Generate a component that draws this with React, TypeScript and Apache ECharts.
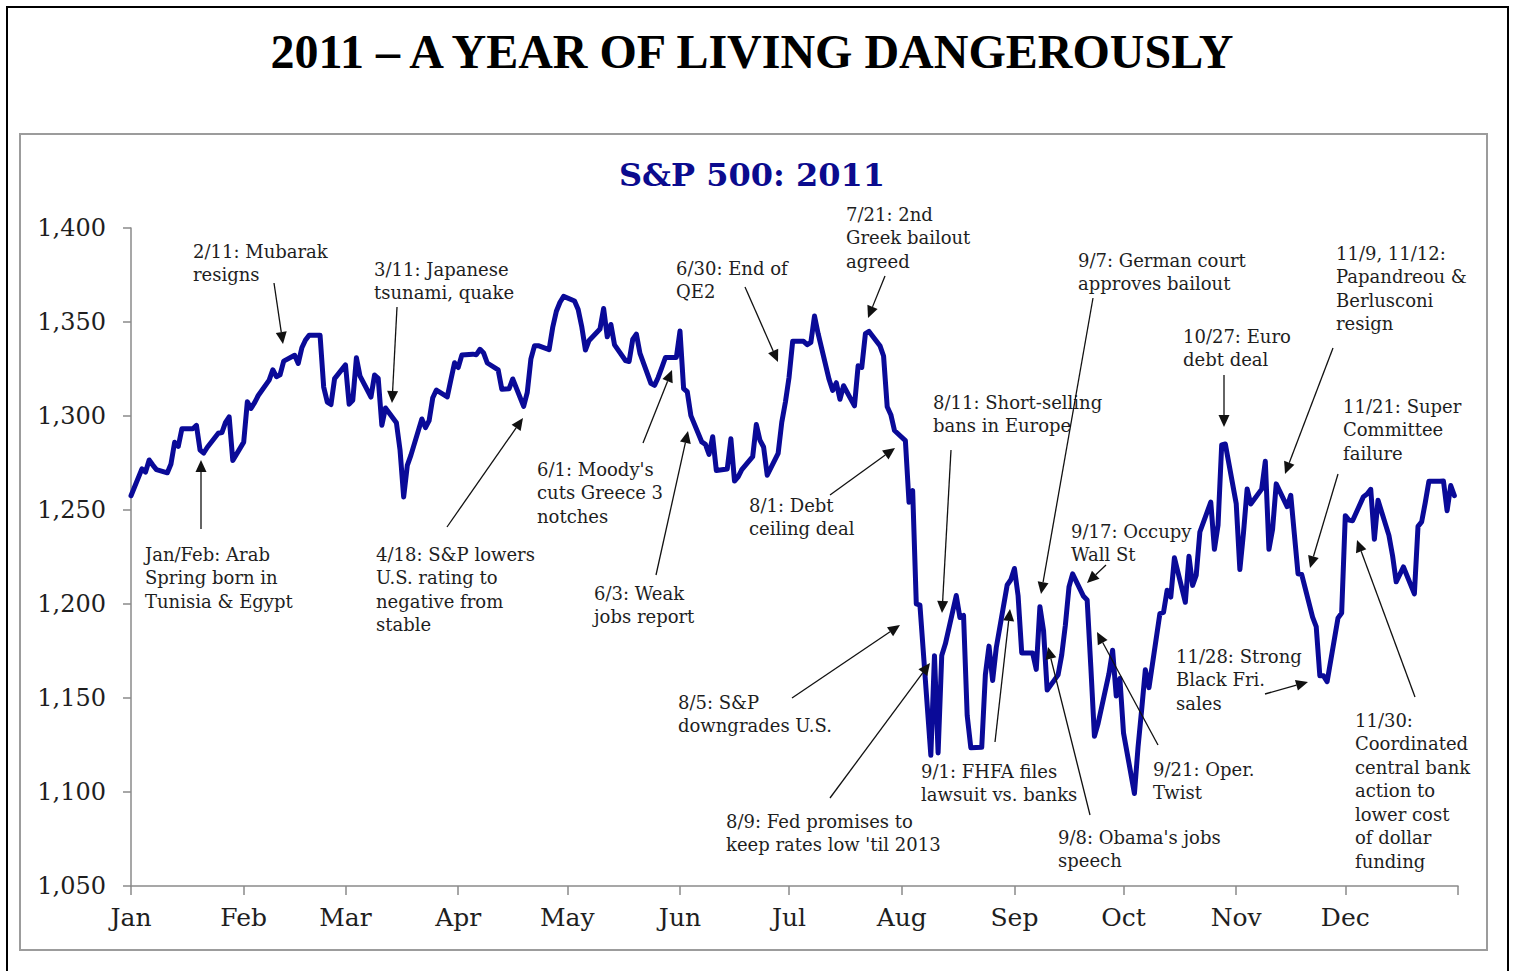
import React, { useEffect, useRef } from "react";
import * as echarts from "echarts";

// ---------- DATA (S&P 500 daily closes, 2011) ----------
const monthNames = ["Jan", "Feb", "Mar", "Apr", "May", "Jun", "Jul", "Aug", "Sep", "Oct", "Nov", "Dec"];
// day-of-year offset at which each month starts (tick positions)
const monthStarts = [0, 31, 59, 90, 120, 151, 181, 212, 243, 273, 304, 334];
const yearEnd = 365;
const yMin = 1050;
const yMax = 1400;
const yStep = 50;

const startClose = 1257.6; // 12/31/2010 close, plotted at the axis origin

const jan: [number, number][] = [
  [3, 1271.9], [4, 1270.2], [5, 1276.6], [6, 1273.9], [7, 1271.5], [10, 1269.8], [11, 1274.5],
  [12, 1286.0], [13, 1283.8], [14, 1293.2], [17, 1293.2], [18, 1295.0], [19, 1281.9], [20, 1280.3],
  [21, 1283.4], [24, 1290.8], [25, 1291.2], [26, 1296.6], [27, 1299.5], [28, 1276.3], [31, 1286.1],
];
const feb: [number, number][] = [
  [1, 1307.6], [2, 1304.0], [3, 1307.1], [4, 1310.9], [7, 1319.1], [8, 1324.6], [9, 1320.9],
  [10, 1321.9], [11, 1329.2], [14, 1332.3], [15, 1328.0], [16, 1336.3], [17, 1340.4], [18, 1343.0],
  [21, 1343.0], [22, 1315.4], [23, 1307.4], [24, 1306.1], [25, 1319.9], [28, 1327.2],
];
const mar: [number, number][] = [
  [1, 1306.3], [2, 1308.4], [3, 1331.0], [4, 1321.2], [7, 1310.1], [8, 1321.8], [9, 1320.0],
  [10, 1295.1], [11, 1304.3], [14, 1296.4], [15, 1281.9], [16, 1256.9], [17, 1273.7], [18, 1279.2],
  [21, 1298.4], [22, 1293.8], [23, 1297.5], [24, 1309.7], [25, 1313.8], [28, 1310.2], [29, 1319.4],
  [30, 1328.3], [31, 1325.8],
];
const apr: [number, number][] = [
  [1, 1332.4], [4, 1332.9], [5, 1332.6], [6, 1335.5], [7, 1333.5], [8, 1328.2], [11, 1324.5],
  [12, 1314.2], [13, 1314.4], [14, 1314.5], [15, 1319.7], [18, 1305.1], [19, 1312.6], [20, 1330.4],
  [21, 1337.4], [22, 1337.4], [25, 1335.3], [26, 1347.2], [27, 1355.7], [28, 1360.5], [29, 1363.6],
];
const may: [number, number][] = [
  [2, 1361.2], [3, 1356.6], [4, 1347.3], [5, 1335.1], [6, 1340.2], [9, 1346.3], [10, 1357.2],
  [11, 1342.1], [12, 1348.7], [13, 1337.8], [16, 1329.5], [17, 1329.0], [18, 1340.7], [19, 1343.6],
  [20, 1333.3], [23, 1317.4], [24, 1316.3], [25, 1320.5], [26, 1325.7], [27, 1331.1], [30, 1331.1],
  [31, 1345.2],
];
const jun: [number, number][] = [
  [1, 1314.6], [2, 1312.9], [3, 1300.2], [6, 1286.2], [7, 1284.9], [8, 1279.6], [9, 1289.0],
  [10, 1271.0], [13, 1271.8], [14, 1287.9], [15, 1265.4], [16, 1267.6], [17, 1271.5], [20, 1278.4],
  [21, 1295.5], [22, 1287.1], [23, 1283.5], [24, 1268.5], [27, 1280.1], [28, 1296.7], [29, 1307.4],
  [30, 1320.6],
];
const jul: [number, number][] = [
  [1, 1339.7], [4, 1339.7], [5, 1337.9], [6, 1339.2], [7, 1353.2], [8, 1343.8], [11, 1319.5],
  [12, 1313.6], [13, 1317.7], [14, 1308.9], [15, 1316.1], [18, 1305.4], [19, 1326.7], [20, 1325.8],
  [21, 1343.8], [22, 1345.0], [25, 1337.4], [26, 1331.9], [27, 1304.9], [28, 1300.7], [29, 1292.3],
];
const aug: [number, number][] = [
  [1, 1286.9], [2, 1254.1], [3, 1260.3], [4, 1200.1], [5, 1199.4], [8, 1119.5], [9, 1172.5],
  [10, 1120.8], [11, 1172.6], [12, 1178.8], [15, 1204.5], [16, 1192.8], [17, 1193.9], [18, 1140.7],
  [19, 1123.5], [22, 1123.8], [23, 1162.4], [24, 1177.6], [25, 1159.3], [26, 1176.8], [29, 1210.1],
  [30, 1212.9], [31, 1218.9],
];
const sep: [number, number][] = [
  [1, 1204.4], [2, 1174.0], [5, 1174.0], [6, 1165.2], [7, 1198.6], [8, 1185.9], [9, 1154.2],
  [12, 1162.3], [13, 1172.9], [14, 1188.7], [15, 1209.1], [16, 1216.0], [19, 1204.1], [20, 1202.1],
  [21, 1166.8], [22, 1129.6], [23, 1136.4], [26, 1163.0], [27, 1175.4], [28, 1151.1], [29, 1160.4],
  [30, 1131.4],
];
const oct: [number, number][] = [
  [3, 1099.2], [4, 1124.0], [5, 1144.0], [6, 1165.0], [7, 1155.5], [10, 1194.9], [11, 1195.5],
  [12, 1207.3], [13, 1203.7], [14, 1224.6], [17, 1200.9], [18, 1225.4], [19, 1209.9], [20, 1215.4],
  [21, 1238.3], [24, 1254.2], [25, 1229.1], [26, 1242.0], [27, 1284.6], [28, 1285.1], [31, 1253.3],
];
const nov: [number, number][] = [
  [1, 1218.3], [2, 1237.9], [3, 1261.2], [4, 1253.2], [7, 1261.1], [8, 1275.9], [9, 1229.1],
  [10, 1239.7], [11, 1263.9], [14, 1251.8], [15, 1257.8], [16, 1236.9], [17, 1216.1], [18, 1215.7],
  [21, 1193.0], [22, 1188.0], [23, 1161.8], [24, 1161.8], [25, 1158.7], [28, 1192.6], [29, 1195.2],
  [30, 1247.0],
];
const dec: [number, number][] = [
  [1, 1244.6], [2, 1244.3], [5, 1257.1], [6, 1258.5], [7, 1261.0], [8, 1234.4], [9, 1255.2],
  [12, 1236.5], [13, 1225.7], [14, 1211.8], [15, 1215.8], [16, 1219.7], [19, 1205.4], [20, 1241.3],
  [21, 1243.7], [22, 1254.0], [23, 1265.3], [26, 1265.3], [27, 1265.4], [28, 1249.6], [29, 1263.0],
  [30, 1257.6],
];
const months = [jan, feb, mar, apr, may, jun, jul, aug, sep, oct, nov, dec];

// ---------- TEXT ----------
const mainTitle = "2011 \u2013 A YEAR OF LIVING DANGEROUSLY";
const chartTitle = "S&P 500: 2011";

// ---------- ANNOTATION LAYOUT (text left x, first-line centre y, arrow from -> to) ----------
type Note = { lines: string[]; x: number; cy: number; from: [number, number]; to: [number, number] };
const notes: Note[] = [
  { lines: ["2/11: Mubarak", "resigns"], x: 193, cy: 251, from: [274, 283], to: [283, 344] },
  { lines: ["Jan/Feb: Arab", "Spring born in", "Tunisia & Egypt"], x: 145, cy: 554, from: [201, 529], to: [201, 460] },
  { lines: ["3/11: Japanese", "tsunami, quake"], x: 374, cy: 269, from: [397, 307], to: [392, 403] },
  { lines: ["4/18: S&P lowers", "U.S. rating to", "negative from", "stable"], x: 376, cy: 554, from: [447, 527], to: [523, 418] },
  { lines: ["6/1: Moody's", "cuts Greece 3", "notches"], x: 537, cy: 469, from: [643, 443], to: [672, 370] },
  { lines: ["6/3: Weak", "jobs report"], x: 594, cy: 593, from: [656, 575], to: [688, 431] },
  { lines: ["6/30: End of", "QE2"], x: 676, cy: 268, from: [745, 287], to: [778, 362] },
  { lines: ["7/21: 2nd", "Greek bailout", "agreed"], x: 846, cy: 214, from: [885, 276], to: [868, 318] },
  { lines: ["8/1: Debt", "ceiling deal"], x: 749, cy: 505, from: [830, 495], to: [895, 448] },
  { lines: ["8/11: Short-selling", "bans in Europe"], x: 933, cy: 402, from: [951, 450], to: [942, 613] },
  { lines: ["8/5: S&P", "downgrades U.S."], x: 678, cy: 702, from: [792, 698], to: [900, 625] },
  { lines: ["8/9: Fed promises to", "keep rates low 'til 2013"], x: 726, cy: 821, from: [830, 798], to: [930, 663] },
  { lines: ["9/1: FHFA files", "lawsuit vs. banks"], x: 921, cy: 771, from: [995, 742], to: [1010, 609] },
  { lines: ["9/7: German court", "approves bailout"], x: 1078, cy: 260, from: [1093, 298], to: [1041, 594] },
  { lines: ["9/8: Obama's jobs", "speech"], x: 1058, cy: 837, from: [1090, 815], to: [1048, 647] },
  { lines: ["9/17: Occupy", "Wall St"], x: 1071, cy: 531, from: [1106, 565], to: [1087, 583] },
  { lines: ["9/21: Oper.", "Twist"], x: 1153, cy: 769, from: [1158, 745], to: [1097, 632] },
  { lines: ["10/27: Euro", "debt deal"], x: 1183, cy: 336, from: [1224, 375], to: [1224, 427] },
  { lines: ["11/9, 11/12:", "Papandreou &", "Berlusconi", "resign"], x: 1336, cy: 253, from: [1333, 348], to: [1285, 474] },
  { lines: ["11/21: Super", "Committee", "failure"], x: 1343, cy: 406, from: [1338, 474], to: [1310, 568] },
  { lines: ["11/28: Strong", "Black Fri.", "sales"], x: 1176, cy: 656, from: [1265, 694], to: [1308, 682] },
  {
    lines: ["11/30:", "Coordinated", "central bank", "action to", "lower cost", "of dollar", "funding"],
    x: 1355, cy: 720, from: [1415, 697], to: [1357, 540],
  },
];

const SERIF = '"DejaVu Serif", Georgia, serif';
const LINE_H = 23.5;

function arrow(from: [number, number], to: [number, number]) {
  const dx = to[0] - from[0];
  const dy = to[1] - from[1];
  const len = Math.sqrt(dx * dx + dy * dy) || 1;
  const ux = dx / len, uy = dy / len;
  const nx = -uy, ny = ux;
  const L = 12, W = 5.5;
  const bx = to[0] - ux * L, by = to[1] - uy * L;
  return [
    {
      type: "line",
      shape: { x1: from[0], y1: from[1], x2: bx, y2: by },
      style: { stroke: "#111", lineWidth: 1.3 },
      silent: true,
      z: 10,
    },
    {
      type: "polygon",
      shape: { points: [[to[0], to[1]], [bx + nx * W, by + ny * W], [bx - nx * W, by - ny * W]] },
      style: { fill: "#111" },
      silent: true,
      z: 10,
    },
  ];
}

export default function App() {
  const ref = useRef<HTMLDivElement>(null);

  useEffect(() => {
    if (!ref.current) return;
    const chart = echarts.init(ref.current, undefined, { renderer: "svg" });

    const seriesData: [number, number][] = [[0, startClose]];
    months.forEach((arr, m) => arr.forEach(([d, v]) => seriesData.push([monthStarts[m] + d, v])));

    const graphics: any[] = [
      {
        type: "polyline",
        shape: { points: [[7, 975], [7, 7], [1508, 7], [1508, 975]] },
        style: { stroke: "#000", lineWidth: 2, fill: null },
        silent: true,
      },
      {
        type: "rect",
        shape: { x: 20, y: 134, width: 1467, height: 816 },
        style: { stroke: "#9c9c9c", lineWidth: 2, fill: null },
        silent: true,
      },
      {
        type: "text",
        style: {
          text: mainTitle, x: 752, y: 51, align: "center", verticalAlign: "middle",
          font: 'bold 48px "Liberation Serif", "Times New Roman", serif', fill: "#000",
        },
      },
      {
        type: "text",
        style: {
          text: chartTitle, x: 752, y: 175, align: "center", verticalAlign: "middle",
          font: 'bold 32px ' + SERIF, fill: "#0b0b8e",
        },
      },
    ];
    notes.forEach((n) => {
      graphics.push({
        type: "text",
        style: {
          text: n.lines.join("\n"), x: n.x, y: n.cy - LINE_H / 2, align: "left", verticalAlign: "top",
          font: "18px " + SERIF, lineHeight: LINE_H, fill: "#1e1e1e",
        },
        z: 5,
      });
      graphics.push(...arrow(n.from, n.to));
    });

    chart.setOption({
      animation: false,
      backgroundColor: "#fff",
      grid: { left: 131, right: 56, top: 228, bottom: 85, containLabel: false },
      xAxis: {
        type: "value",
        min: 0,
        max: yearEnd,
        splitLine: { show: false },
        axisLine: { show: true, lineStyle: { color: "#8a8a8a", width: 1.5 } },
        axisTick: { show: true, length: 9, lineStyle: { color: "#8a8a8a", width: 1.5 }, customValues: [...monthStarts, yearEnd] },
        axisLabel: {
          customValues: monthStarts,
          formatter: (v: number) => monthNames[monthStarts.indexOf(Math.round(v))] ?? "",
          margin: 19,
          fontFamily: SERIF,
          fontSize: 25,
          color: "#1e1e1e",
        },
      },
      yAxis: {
        type: "value",
        min: yMin,
        max: yMax,
        interval: yStep,
        splitLine: { show: false },
        axisLine: { show: true, lineStyle: { color: "#8a8a8a", width: 1.5 } },
        axisTick: { show: true, length: 8, lineStyle: { color: "#8a8a8a", width: 1.5 } },
        axisLabel: {
          formatter: (v: number) => v.toLocaleString("en-US"),
          margin: 25,
          fontFamily: SERIF,
          fontSize: 24,
          color: "#1e1e1e",
        },
      },
      series: [
        {
          type: "line",
          data: seriesData,
          showSymbol: false,
          symbol: "none",
          lineStyle: { color: "#0a0a98", width: 5, join: "round", cap: "round" },
          z: 3,
        },
      ],
      graphic: graphics,
    });

    return () => chart.dispose();
  }, []);

  return (
    <div
      ref={ref}
      style={{ position: "fixed", left: 0, top: 0, width: 1514, height: 971, background: "#fff" }}
    />
  );
}
